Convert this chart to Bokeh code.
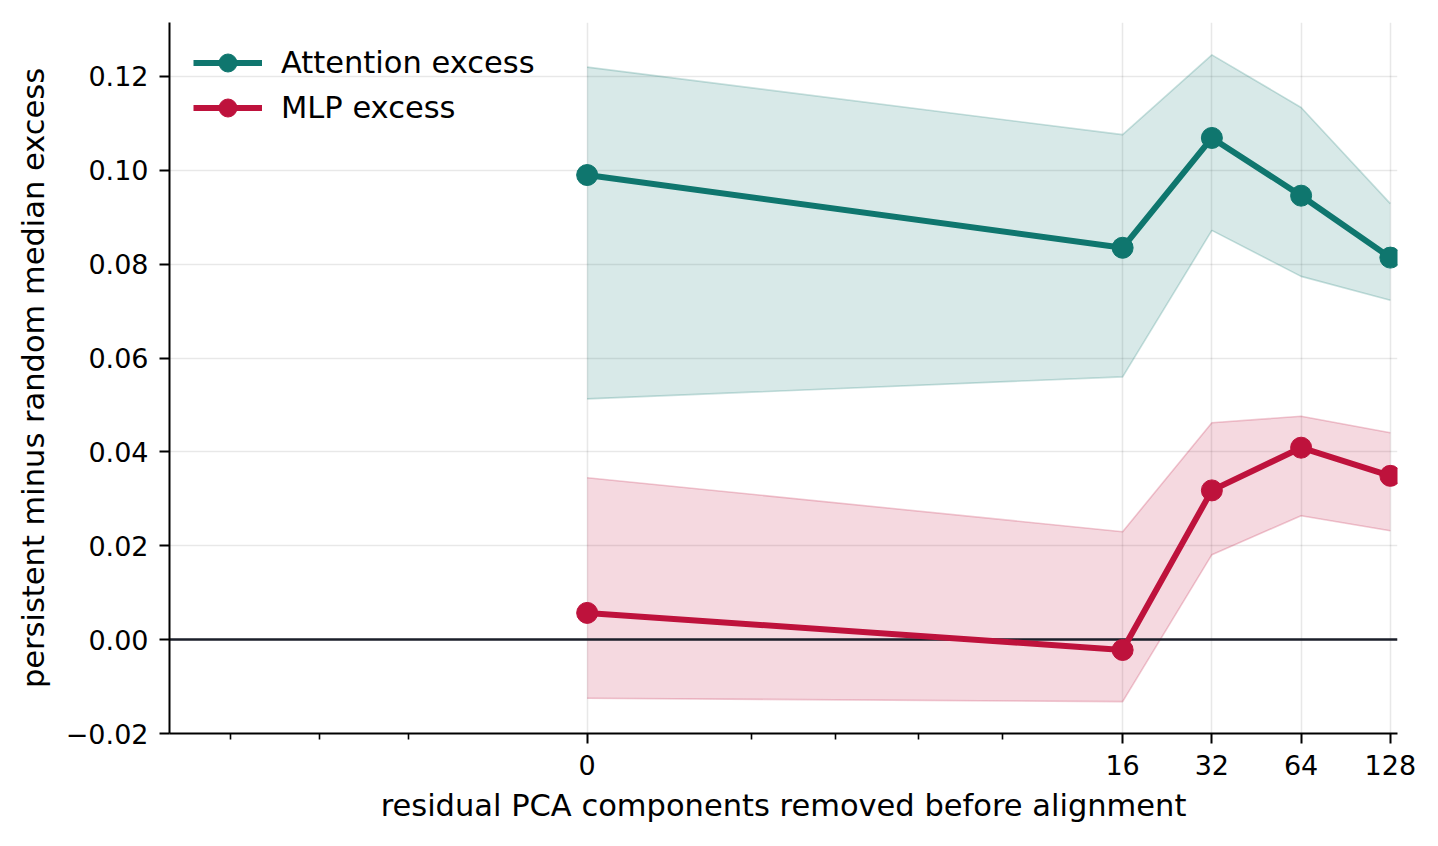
import numpy as np
from bokeh.plotting import figure
from bokeh.models import (ColumnDataSource, FixedTicker, Range1d, Legend, LegendItem,
                          CustomJSTickFormatter)
from bokeh.embed import file_html
from bokeh.resources import INLINE

# ---- data ----
components = [0, 16, 32, 64, 128]
x_tick_labels = ["0", "16", "32", "64", "128"]

attn_median = [0.0990, 0.0835, 0.1069, 0.0946, 0.0814]
attn_upper = [0.1220, 0.1076, 0.1246, 0.1134, 0.0929]
attn_lower = [0.0513, 0.0560, 0.0872, 0.0774, 0.0723]

mlp_median = [0.0057, -0.0022, 0.0318, 0.0409, 0.0349]
mlp_upper = [0.0345, 0.0230, 0.0462, 0.0476, 0.0441]
mlp_lower = [-0.0125, -0.0132, 0.0181, 0.0264, 0.0232]

y_ticks = [-0.02, 0.00, 0.02, 0.04, 0.06, 0.08, 0.10, 0.12]

ATTN = "#0f766e"
MLP = "#be123c"
FONT = "DejaVu Sans"


# symmetric-log transform (base 2, linthresh 1, linscale 1)
def symlog2(v):
    v = np.asarray(v, dtype=float)
    out = np.where(np.abs(v) <= 1, 2.0 * v, np.sign(v) * (2.0 + np.log2(np.maximum(np.abs(v), 1e-12))))
    return out


xt = symlog2(components)

src = ColumnDataSource(dict(
    x=xt,
    attn=attn_median, attn_hi=attn_upper, attn_lo=attn_lower,
    mlp=mlp_median, mlp_hi=mlp_upper, mlp_lo=mlp_lower,
))

p = figure(
    frame_width=1228, frame_height=711,
    min_border_left=169, min_border_right=25, min_border_top=22, min_border_bottom=97,
    output_backend="svg", toolbar_location=None,
    x_range=Range1d(-4.68, 9.08), y_range=Range1d(-0.02, 0.1315),
)
p.outline_line_color = None
p.background_fill_color = "white"
p.border_fill_color = "white"

# bands
p.varea(x="x", y1="attn_lo", y2="attn_hi", source=src, fill_color=ATTN, fill_alpha=0.16)
p.line(x="x", y="attn_hi", source=src, line_color=ATTN, line_alpha=0.22, line_width=1.6)
p.line(x="x", y="attn_lo", source=src, line_color=ATTN, line_alpha=0.22, line_width=1.6)
p.varea(x="x", y1="mlp_lo", y2="mlp_hi", source=src, fill_color=MLP, fill_alpha=0.16)
p.line(x="x", y="mlp_hi", source=src, line_color=MLP, line_alpha=0.22, line_width=1.6)
p.line(x="x", y="mlp_lo", source=src, line_color=MLP, line_alpha=0.22, line_width=1.6)

# zero line
p.hspan(y=[0.0], line_color="#1b1f2a", line_width=2.6)

# series
l1 = p.line(x="x", y="attn", source=src, line_color=ATTN, line_width=6)
s1 = p.scatter(x="x", y="attn", source=src, size=21, fill_color=ATTN, line_color=ATTN)
l2 = p.line(x="x", y="mlp", source=src, line_color=MLP, line_width=6)
s2 = p.scatter(x="x", y="mlp", source=src, size=21, fill_color=MLP, line_color=MLP)

legend = Legend(items=[
    LegendItem(label="Attention excess", renderers=[l1, s1]),
    LegendItem(label="MLP excess", renderers=[l2, s2]),
], location=(24, 603))
legend.border_line_color = None
legend.background_fill_alpha = 0
legend.padding = 0
legend.margin = 0
legend.spacing = 0
legend.glyph_width = 69
legend.glyph_height = 45
legend.label_height = 45
legend.label_standoff = 19
legend.label_text_font = FONT
legend.label_text_font_size = "30.5px"
legend.label_text_color = "black"
p.add_layout(legend)

# axes
minor_x = [-4.0, -3.0, -2.0, 1.84, 2.78, 3.71, 4.65]
p.xaxis.ticker = FixedTicker(ticks=list(xt), minor_ticks=minor_x)
p.xaxis.major_label_overrides = {float(t): lab for t, lab in zip(xt, x_tick_labels)}
p.yaxis.ticker = FixedTicker(ticks=y_ticks)
p.yaxis.formatter = CustomJSTickFormatter(code="""
    if (Math.abs(tick) < 1e-9) return "0.00";
    return (tick < 0 ? "\u2212" : "") + Math.abs(tick).toFixed(2);
""")

for ax in (p.xaxis[0], p.yaxis[0]):
    ax.axis_line_color = "black"
    ax.axis_line_width = 2
    ax.major_tick_line_color = "black"
    ax.major_tick_line_width = 2
    ax.major_tick_in = 0
    ax.major_tick_out = 10
    ax.minor_tick_line_color = "black"
    ax.minor_tick_line_width = 1.6
    ax.minor_tick_in = 0
    ax.minor_tick_out = 6
    ax.major_label_text_font = FONT
    ax.major_label_text_font_size = "27px"
    ax.major_label_text_color = "black"
    ax.axis_label_text_font = FONT
    ax.axis_label_text_font_size = "30.5px"
    ax.axis_label_text_font_style = "normal"
    ax.axis_label_text_color = "black"
    ax.major_label_standoff = 11

p.yaxis.minor_tick_line_color = None
p.xaxis.axis_label = "residual PCA components removed before alignment"
p.yaxis.axis_label = "persistent minus random median excess"
p.xaxis.axis_label_standoff = 10
p.yaxis.axis_label_standoff = 12

p.xgrid.ticker = FixedTicker(ticks=list(xt))
p.ygrid.ticker = FixedTicker(ticks=y_ticks)
for g in (p.xgrid[0], p.ygrid[0]):
    g.grid_line_color = "black"
    g.grid_line_alpha = 0.09
    g.grid_line_width = 1.6

open("out.html", "w").write(file_html(p, INLINE))
